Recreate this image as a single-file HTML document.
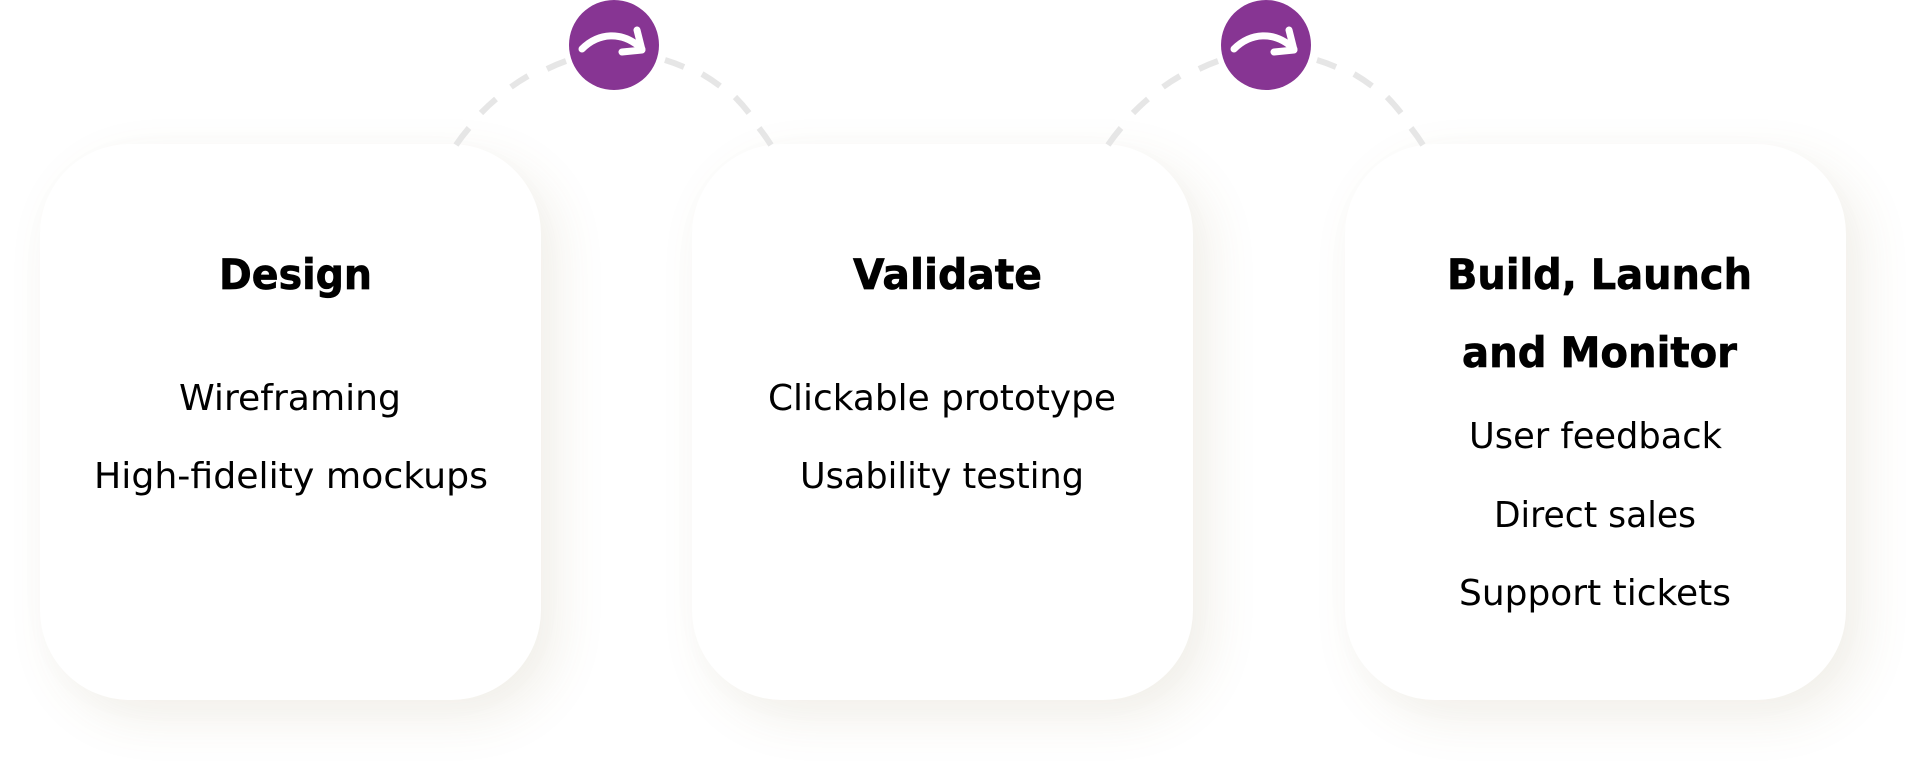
<!DOCTYPE html>
<html>
<head>
<meta charset="utf-8">
<style>
html,body{margin:0;padding:0;background:#fff;width:1926px;height:780px;overflow:hidden}
.c{position:absolute;top:144px;width:501px;height:556px;background:#fff;border-radius:90px;box-shadow:17px 18px 50px rgba(130,110,60,.105),2px 6px 70px rgba(130,110,60,.012)}
svg{position:absolute;left:0;top:0}
.h{font-family:"DejaVu Sans",sans-serif;font-weight:700;font-size:42px;fill:#000;stroke:#000;stroke-width:.7}
.t{font-family:"DejaVu Sans",sans-serif;font-size:36px;fill:#000}
</style>
</head>
<body>
<div class="c" style="left:40px"></div>
<div class="c" style="left:692px"></div>
<div class="c" style="left:1345px"></div>
<svg width="1926" height="780" viewBox="0 0 1926 780">
<defs>
<g id="conn">
<g fill="none" stroke="#e6e6e6" stroke-width="6">
<path d="M456 145A181 181 0 0 1 469 128"/>
<path d="M481 113A181 181 0 0 1 496 99"/>
<path d="M511 87A181 181 0 0 1 528 76"/>
<path d="M547 69A181 181 0 0 1 566 61"/>
<path d="M665 60A181 181 0 0 1 684 67"/>
<path d="M702 74A181 181 0 0 1 720 86"/>
<path d="M735 97A181 181 0 0 1 749 113"/>
<path d="M759 128A181 181 0 0 1 771 145"/>
</g>
<circle cx="614" cy="45" r="45" fill="#873593"/>
<path d="M582 49C598 33 622 30 642 49M637 30L642 50L622 52" fill="none" stroke="#fff" stroke-width="7" stroke-linecap="round" stroke-linejoin="round"/>
</g>
</defs>
<use href="#conn"/>
<use href="#conn" x="652"/>

<text class="h" x="219" y="289" textLength="153" lengthAdjust="spacingAndGlyphs">Design</text>
<text class="t" x="179" y="410" textLength="222" lengthAdjust="spacingAndGlyphs">Wireframing</text>
<text class="t" x="94" y="488" textLength="394" lengthAdjust="spacingAndGlyphs">High-fidelity mockups</text>

<text class="h" x="853" y="289" textLength="189" lengthAdjust="spacingAndGlyphs">Validate</text>
<text class="t" x="768" y="410" textLength="348" lengthAdjust="spacingAndGlyphs">Clickable prototype</text>
<text class="t" x="800" y="488" textLength="284" lengthAdjust="spacingAndGlyphs">Usability testing</text>

<text class="h" x="1447" y="289" textLength="305" lengthAdjust="spacingAndGlyphs">Build, Launch</text>
<text class="h" x="1462" y="367" textLength="275" lengthAdjust="spacingAndGlyphs">and Monitor</text>
<text class="t" x="1469" y="448" textLength="253" lengthAdjust="spacingAndGlyphs">User feedback</text>
<text class="t" x="1494" y="527" textLength="202" lengthAdjust="spacingAndGlyphs">Direct sales</text>
<text class="t" x="1459" y="605" textLength="272" lengthAdjust="spacingAndGlyphs">Support tickets</text>
</svg>
</body>
</html>
